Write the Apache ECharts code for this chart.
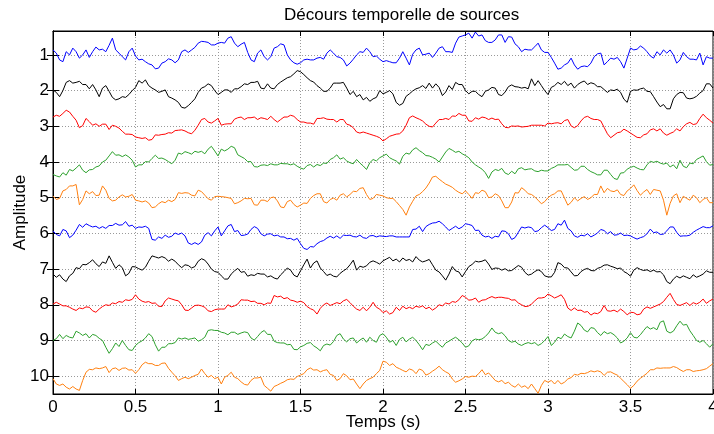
<!DOCTYPE html>
<html>
<head>
<meta charset="utf-8">
<script src="https://cdn.jsdelivr.net/npm/echarts@6/dist/echarts.min.js"></script>
<style>
  html, body { margin: 0; padding: 0; background: #fff; }
  #chart { width: 714px; height: 434px; }
</style>
</head>
<body>
<div id="chart"></div>
<script>
// Décours temporelle de sources : 10 traces empilées
const dt = 0.04; // pas des valeurs (s)
const xTicks = [0, 0.5, 1, 1.5, 2, 2.5, 3, 3.5, 4];
const yTicks = [1, 2, 3, 4, 5, 6, 7, 8, 9, 10];
const colors = ['#0000ff', '#000000', '#ff0000', '#2ca02c', '#ff7f0e',
                '#0000ff', '#000000', '#ff0000', '#2ca02c', '#ff7f0e'];

// écart de chaque source autour de sa ligne de base (vers le bas = positif)
// sN : valeurs à t = 0, 0.04, ... 4 ; mN : valeurs à t = 0.02, 0.06, ... 3.98
const s1 = [-0.14,0.14,-0.09,-0.19,0.09,-0.14,-0.09,-0.14,-0.09,-0.47,
  -0.05,0.14,-0.19,0.14,0.19,0.28,0.37,0.19,0.14,0.14,
  -0.14,-0.14,-0.33,-0.37,-0.28,-0.33,-0.33,-0.51,-0.23,
  -0.35,0.14,-0.05,0.05,0.05,-0.23,-0.28,0.14,0.26,0.14,
  0.14,0.09,0.12,-0.14,0.05,0.14,0.23,0,-0.07,-0.09,
  0.03,0.19,0.19,0.22,-0.09,0.28,-0.14,0,-0.05,-0.05,
  -0.23,-0.09,-0.33,-0.53,-0.61,
  -0.64,-0.56,-0.35,-0.42,-0.56,-0.51,-0.31,-0.09,-0.14,-0.23,
  -0.14,-0.07,0.23,0.37,0.23,0.28,0.33,0.33,0.05,-0.05,
  0.19,0.12,0.19,0.09,-0.14,-0.25,-0.09,0.09,0,-0.05,
  0,0.14,0.05,0.12,-0.05,0.05,0.09];
const m1 = [-0.05,0.19,0,-0.09,0,0.07,-0.22,-0.16,-0.27,-0.14,
  0.05,-0.09,0.03,0.12,0.25,0.39,0.23,0.11,0.22,-0.09,
  -0.07,-0.21,-0.38,-0.35,-0.28,-0.35,-0.47,-0.33,
  -0.30,-0.07,0.19,-0.14,0.14,-0.19,-0.31,0,0.22,0.22,
  0.12,0.14,0.07,-0.05,-0.05,0.07,0.31,0.12,-0.09,-0.19,
  0.05,0.12,0.16,0.22,0.09,0.09,-0.02,-0.19,-0.02,0.07,
  -0.19,-0.09,-0.07,-0.50,-0.56,
  -0.47,-0.53,-0.40,-0.35,-0.56,-0.35,-0.50,-0.23,-0.16,-0.14,
  -0.33,-0.07,0.07,0.40,0.28,0.09,0.40,0.31,0.23,-0.03,
  0.28,0.09,0.07,0.37,-0.19,-0.16,-0.19,0.03,-0.09,-0.14,
  -0.14,0.23,-0.07,0.12,0.14,0.28,0.09];
const s2 = [-0.02,0.17,-0.23,-0.21,-0.26,-0.17,-0.17,0.17,-0.14,0.19,
  0.23,0.19,0,-0.28,-0.30,-0.07,0.05,-0.02,0.21,0.33,
  0.49,0.33,0.05,-0.11,-0.14,0.11,-0.02,0.05,-0.05,
  -0.19,-0.23,-0.26,-0.05,-0.07,-0.17,-0.30,-0.39,-0.56,-0.45,
  -0.28,-0.14,0.02,-0.07,-0.21,-0.23,0.11,0.17,0.26,0.30,
  0.19,0.09,0,0.33,0.36,0.09,-0.05,-0.14,-0.21,-0.19,
  0.14,-0.14,-0.23,-0.17,0.09,
  0.02,0.17,-0.02,-0.07,0.14,-0.11,-0.11,-0.07,-0.05,-0.14,
  -0.14,0.11,-0.14,-0.17,-0.14,-0.07,-0.23,-0.17,-0.19,-0.11,
  0.05,0,0.05,0.33,-0.02,-0.05,0.02,0.17,0.45,0.51,
  0.23,0.05,0.21,0.21,0.07,-0.19,-0.07];
const m2 = [0.05,0,-0.28,-0.23,-0.17,-0.05,-0.02,-0.07,0.02,0.26,
  0.17,0.11,-0.09,-0.21,-0.14,-0.02,0.02,0.17,0.26,0.47,
  0.42,0.23,-0.07,-0.19,0,0.05,-0.02,-0.05,
  -0.11,-0.17,-0.23,-0.07,-0.19,-0.05,-0.24,-0.36,-0.47,-0.53,
  -0.36,-0.24,-0.07,0.02,-0.21,-0.21,-0.07,0.02,0.11,0.19,
  0.23,0,0.05,0.09,0.41,0.16,0.01,-0.08,-0.06,-0.07,
  -0.09,0.04,-0.03,-0.17,0,
  0.02,0.11,0.02,-0.09,0.11,0.04,-0.16,-0.10,-0.09,-0.33,
  -0.28,0,-0.09,-0.23,-0.26,-0.21,-0.17,-0.27,-0.22,-0.11,
  -0.03,-0.02,-0.04,0.24,0.02,-0.01,-0.07,0.03,0.32,0.39,
  0.51,0.11,0.06,0.23,0.16,0,-0.19];
const s3 = [-0.26,-0.28,-0.45,-0.28,0.04,-0.22,-0.03,0,-0.06,-0.03,
  0.05,0.22,0.23,0.32,0.32,0.37,0.25,0.22,0.19,0.11,
  0.13,0.21,-0.03,-0.22,-0.09,-0.22,-0.06,-0.07,-0.24,
  -0.19,-0.24,-0.19,-0.22,-0.28,-0.12,-0.26,-0.31,-0.19,-0.12,
  -0.09,-0.22,-0.24,-0.19,-0.12,-0.19,-0.03,0.16,0.16,0.22,
  0.28,0.41,0.28,0.22,0.13,-0.24,-0.24,-0.15,0,-0.09,
  -0.19,-0.19,-0.28,-0.31,-0.15,
  -0.24,-0.26,-0.19,-0.19,-0.07,0.04,0,0.02,0,-0.03,
  -0.03,-0.09,-0.09,-0.07,-0.19,0.04,-0.15,-0.28,-0.19,-0.15,
  0.21,0.25,0.16,0.13,0.25,0.32,0.21,0.07,0.07,0.25,
  0.16,0.13,-0.07,-0.05,-0.22,-0.24,-0.09];
const m3 = [-0.31,-0.36,-0.40,-0.17,-0.02,-0.13,-0.07,-0.06,0.09,0,
  0.14,0.22,0.30,0.34,0.39,0.24,0.23,0.18,0.12,0.10,
  0.18,0.11,-0.19,-0.12,-0.15,-0.03,-0.07,-0.20,
  -0.26,-0.24,-0.26,-0.24,-0.19,-0.19,-0.19,-0.26,-0.28,-0.12,
  -0.09,-0.06,-0.22,-0.20,-0.19,-0.19,-0.06,0.04,0.19,0.19,
  0.25,0.32,0.35,0.25,0.21,-0.03,-0.29,-0.20,-0.06,0.02,
  -0.19,-0.22,-0.29,-0.36,-0.31,
  -0.14,-0.20,-0.24,-0.23,-0.20,0.03,-0.01,-0.01,0.01,-0.03,
  -0.03,-0.01,-0.07,-0.10,-0.16,-0.01,-0.02,-0.25,-0.22,-0.19,
  0.03,0.32,0.18,0.08,0.19,0.31,0.24,0.10,0.13,0.19,
  0.20,0.07,0.01,-0.11,-0.07,-0.34,-0.17];
const s4 = [0.35,0.42,0.37,0.25,0.08,0.30,0.21,0.11,-0.05,-0.29,
  -0.20,-0.20,-0.05,0.08,-0.01,-0.10,-0.10,-0.07,0.05,-0.25,
  -0.29,-0.22,-0.27,-0.23,-0.44,-0.17,-0.31,-0.44,-0.20,
  -0.10,-0.01,0.14,0.08,0.05,0.08,0.05,0.08,0.12,0.20,
  0.07,0.07,0.03,-0.07,-0.20,-0.12,0.02,-0.07,0.11,0.02,
  -0.03,-0.17,-0.12,-0.03,-0.16,-0.22,-0.40,-0.26,-0.17,-0.08,
  -0.14,-0.38,-0.27,-0.23,-0.12,
  0.08,0.20,0.46,0.21,0.18,0.35,0.33,0.16,0.20,0.25,
  0.23,0.25,0.14,0.08,0.07,0.23,0.12,0.21,0.31,0.36,
  0.23,0.46,0.31,0.20,0.12,0.21,0.08,0.01,0.03,0.03,
  0.08,-0.05,0.16,0.05,-0.12,-0.01,0.07];
const m4 = [0.39,0.30,0.21,0.17,0.23,0.22,0.14,0,-0.17,-0.19,
  -0.15,-0.14,0.14,0.08,0,-0.19,-0.11,-0.01,-0.05,-0.22,
  -0.26,-0.30,-0.30,-0.36,-0.31,-0.36,-0.36,-0.40,
  -0.15,-0.01,0.13,0.09,0.10,0.08,0.04,0.05,0.05,0.17,
  0.10,0.14,0.10,0.04,-0.12,-0.08,-0.03,0.05,0.03,0.21,
  -0.07,-0.12,-0.22,-0.07,0.06,-0.25,-0.34,-0.32,-0.18,-0.13,
  0,-0.28,-0.33,-0.30,-0.18,
  0,0.14,0.30,0.28,0.24,0.31,0.26,0.19,0.22,0.19,
  0.27,0.25,0.18,0.08,0.08,0.15,0.22,0.12,0.27,0.36,
  0.23,0.35,0.49,0.30,0.15,0.17,0.22,-0.02,-0.02,0.06,
  0.14,0.19,0.12,0.03,-0.07,-0.17,0.09];
const s5 = [-0.05,0.02,-0.23,-0.33,0.20,-0.19,-0.17,-0.07,-0.21,0.09,
  -0.02,-0.02,-0.09,0.09,0.09,0.28,0.17,0.14,0.11,-0.14,
  -0.14,-0.07,-0.21,-0.07,0.07,-0.04,-0.02,0.02,0.14,
  0.02,0.02,0.21,0.07,0,0.09,0.28,0.07,0.26,0.15,
  0.02,-0.11,0.11,0.05,0.07,-0.11,-0.09,-0.17,-0.28,0.05,
  -0.09,-0.05,0.02,0.11,0.33,0.26,-0.05,-0.17,-0.41,-0.60,
  -0.45,-0.34,-0.21,-0.11,-0.09,
  -0.14,-0.21,0,-0.11,0.09,0.28,-0.14,-0.28,-0.11,-0.02,
  0.17,0,-0.11,-0.19,0.21,0,0.02,0.05,-0.09,-0.33,
  -0.26,-0.17,-0.09,-0.19,-0.36,-0.07,-0.23,-0.23,-0.19,0.49,
  -0.05,0.14,0.02,-0.07,0.14,0,0.14];
const m5 = [0.05,-0.19,-0.33,-0.37,0.05,-0.11,-0.06,-0.33,0.02,0.07,
  -0.08,-0.04,0.07,0.12,0.15,0.26,0.11,0.07,0.05,-0.12,
  -0.13,-0.05,-0.17,0.03,-0.03,-0.03,0,0.17,
  0.09,0.03,0.20,0.07,0.11,-0.02,0.26,0.11,0.19,0.21,
  0.16,-0.06,-0.11,0.15,0.01,-0.07,-0.02,-0.18,-0.26,-0.09,
  0.02,-0.07,0,0.02,0.22,0.49,0.10,-0.09,-0.27,-0.58,
  -0.52,-0.38,-0.29,-0.15,-0.19,
  0.02,-0.12,-0.17,-0.02,-0.06,0.28,0.12,-0.13,-0.21,-0.09,
  0.07,0.11,-0.07,-0.19,0.01,0.13,0.09,-0.03,0,-0.09,
  -0.14,-0.19,-0.22,-0.06,-0.26,-0.20,-0.16,-0.09,-0.21,0.07,
  0.16,-0.11,-0.04,0.07,0,0.05,0.14];
const s6 = [-0.07,0.07,-0.07,0.05,-0.25,-0.27,-0.18,-0.14,-0.14,-0.22,
  -0.23,-0.33,-0.23,-0.18,-0.20,0.17,0.10,0.05,0.08,0.03,
  0.07,0.31,0.31,0.05,0.07,-0.18,-0.07,-0.25,-0.08,
  0.05,-0.11,-0.14,0.07,0.01,0.05,0.10,0.14,0.14,0.42,
  0.37,0.29,0.20,0.08,0.07,0.05,0.05,0.10,0.12,0.07,
  0.10,0.08,0.07,0.10,0.10,0.10,-0.12,-0.05,-0.25,-0.30,
  -0.27,-0.08,-0.20,-0.18,-0.25,
  -0.08,0.05,0.08,0.08,-0.07,0.01,0.12,-0.18,-0.18,-0.05,
  -0.16,-0.16,-0.11,-0.23,-0.14,0.07,0.05,0.01,0.05,-0.11,
  0.01,0.05,-0.01,0.05,0.12,0.12,0.01,-0.02,0.03,-0.07,
  -0.18,0.08,0.07,-0.03,-0.14,-0.16,-0.21];
const m6 = [0.03,-0.11,0.12,-0.09,-0.17,-0.22,-0.20,-0.19,-0.22,-0.28,
  -0.24,-0.20,-0.14,-0.17,-0.14,0.19,0.14,0.11,-0.01,-0.01,
  0.27,0.26,0.24,-0.02,-0.07,0.07,-0.21,-0.05,
  0.06,0.02,-0.19,0.01,0.02,0.07,0.10,0.15,0.19,0.29,
  0.45,0.38,0.23,0.13,0.13,0.14,0.06,0.09,0.05,0.14,
  0.06,0.07,0.09,0.07,0.10,0.10,-0.11,-0.20,-0.19,-0.29,
  -0.34,-0.18,-0.14,-0.13,-0.27,
  -0.22,-0.09,0.10,0.14,0.10,-0.06,0.17,-0.03,-0.15,-0.16,
  -0.07,-0.23,-0.08,-0.27,-0.37,-0.07,0.11,0.07,0.10,-0.01,
  -0.08,-0.05,0.04,0.06,0.07,0.16,0.09,-0.12,-0.04,0.02,
  -0.18,-0.03,0.07,0.05,-0.09,-0.19,-0.16];
const s7 = [0.14,0.16,0.35,0.12,-0.01,-0.12,-0.26,-0.07,-0.16,-0.19,
  -0.12,0.19,-0.07,-0.01,-0.05,-0.37,-0.31,-0.31,-0.28,-0.12,
  -0.12,-0.03,-0.22,-0.25,0,0.09,0.28,0.14,-0.02,
  0.07,0.16,0.12,0.14,0.19,0.28,0.07,0.03,0.22,-0.12,
  -0.03,-0.23,0.07,0.14,0.22,0.05,-0.12,0.03,-0.05,-0.19,
  -0.19,-0.23,-0.33,-0.28,-0.31,-0.27,-0.35,-0.20,-0.27,0.03,
  0.19,0.14,0.05,0.22,-0.07,
  -0.22,-0.22,-0.14,-0.03,0.03,0.05,-0.03,-0.05,0.17,0.07,
  0.07,0.22,0.09,-0.14,-0.03,0.19,0.07,-0.02,0.05,-0.05,
  -0.12,-0.05,-0.03,0.12,0.03,0.01,0.02,0.03,0.07,0.35,
  0.28,0.25,0.23,0.16,0.19,0.05,0.09];
const m7 = [0.23,0.28,0.19,-0.04,-0.13,-0.18,-0.15,-0.20,-0.37,-0.02,
  -0.04,0.12,-0.06,0.03,-0.22,-0.34,-0.35,-0.22,-0.22,-0.04,
  -0.10,-0.07,-0.29,-0.14,0.07,0.19,0.28,0.05,
  0.09,0.20,0.18,0.14,0.22,0.25,0.16,-0.03,0.17,0.05,
  -0.28,-0.17,-0.03,0.18,0.20,0.12,-0.01,-0.25,-0.08,-0.09,
  -0.23,-0.14,-0.28,-0.23,-0.20,-0.24,-0.20,-0.25,-0.23,-0.12,
  0.08,0.31,-0.07,0.08,0.07,
  -0.13,-0.20,-0.26,0.01,-0.02,-0.01,0.04,-0.10,0.09,0.14,
  0.02,0.19,0.22,-0.18,-0.04,0.08,0.18,0.01,0.04,-0.02,
  -0.11,-0.08,-0.01,0.07,0.20,-0.04,0.04,0.07,0.08,0.16,
  0.41,0.20,0.19,0.27,0.23,0.14,0.09];
const s8 = [-0.02,-0.02,0.03,0.12,0.09,0.06,0.17,0.12,0,-0.05,
  -0.09,-0.14,-0.15,-0.16,-0.07,-0.04,0.04,-0.11,-0.16,-0.11,
  0.15,0.09,0.01,0.07,0.19,0.12,0.12,0.06,-0.02,
  -0.13,-0.09,-0.04,0,-0.04,-0.22,-0.17,-0.13,-0.07,-0.06,
  0.11,0.26,0,0.02,-0.06,-0.11,-0.06,0.12,0.07,0.07,
  0.07,0.22,0.26,0.07,0.04,0.07,0.04,0.03,0.07,0.09,
  0.03,-0.02,-0.07,-0.26,-0.13,
  -0.19,-0.13,-0.19,-0.19,-0.21,-0.18,-0.14,0,0.04,-0.11,
  -0.19,-0.30,-0.19,-0.28,0.09,0.09,0.15,0.19,0.23,0.19,
  0.17,0.15,0.12,0.28,0.22,0.26,0.06,0.06,-0.02,-0.21,
  -0.15,0.02,-0.06,-0.06,-0.07,-0.04,-0.16];
const m8 = [-0.07,0.03,0.07,0.16,0.11,0.07,0.21,0.05,0.02,-0.03,
  -0.07,-0.12,-0.28,-0.10,-0.09,-0.05,0.05,-0.19,-0.13,0,
  0.16,0.02,0.03,0.17,0.14,0.12,0,0.03,
  -0.14,-0.13,-0.10,-0.04,-0.05,-0.26,-0.24,-0.20,-0.11,-0.10,
  0.05,0.15,0.10,-0.05,-0.02,-0.03,-0.15,0.04,0.16,0.17,
  -0.07,0.12,0.17,0.22,0.16,0.11,0.11,0.07,0.11,0.15,
  0,-0.05,-0.09,-0.14,-0.21,
  -0.14,-0.07,-0.14,-0.23,-0.21,-0.19,-0.13,-0.05,0.05,-0.02,
  -0.19,-0.21,-0.25,-0.23,-0.15,0.16,0.16,0.21,0.29,0.25,
  0.02,0.18,0.20,0.19,0.21,0.28,0.12,0.10,0.02,-0.09,
  -0.32,-0.01,-0.02,0.02,-0.02,-0.16,-0.11];
const s9 = [0,-0.17,-0.14,-0.07,-0.21,-0.19,-0.17,-0.06,0.19,0.23,
  0.17,0.14,0.28,0.06,-0.07,-0.11,0.30,0.19,0.09,-0.07,
  -0.07,-0.05,0.02,-0.09,-0.30,-0.28,-0.21,-0.23,-0.17,
  -0.24,-0.07,-0.11,-0.28,-0.17,0.06,0.07,0.11,0.26,0.14,
  0.06,0.21,0.14,0.13,-0.14,-0.04,-0.05,0.07,-0.07,-0.09,
  0.05,-0.19,0.05,0.14,-0.09,-0.04,0,0.26,0.14,0.02,
  0.19,0.02,-0.09,0.07,0.15,
  -0.04,-0.04,-0.21,-0.23,-0.22,0,0.02,0.14,0.06,0.06,
  0.09,-0.11,0.05,-0.05,-0.11,-0.26,-0.42,-0.24,-0.34,-0.14,
  -0.19,-0.16,0.07,-0.07,-0.09,-0.16,-0.39,-0.36,-0.51,-0.26,
  -0.26,-0.54,-0.45,-0.14,0.05,0.09,0.09];
const m9 = [-0.05,-0.05,-0.09,-0.26,-0.14,-0.07,-0.14,0,0.36,0.07,
  0,0.26,0.14,0.01,-0.19,0.12,0.19,0.09,0.06,-0.04,
  -0.03,-0.07,-0.02,-0.28,-0.28,-0.23,-0.16,-0.23,
  -0.21,-0.22,-0.01,-0.22,-0.17,0.02,0.07,0.12,0.25,0.18,
  0.08,0.15,0.29,0.10,0.03,-0.19,0.04,-0.07,-0.01,0.05,
  0,-0.14,-0.09,0,-0.03,0.04,-0.09,0.12,0.11,0.07,
  0.11,0.07,-0.04,-0.02,0.19,
  0.01,-0.02,-0.11,-0.35,-0.19,-0.13,0.05,0.10,0.09,0.09,
  0.14,0,0.14,-0.09,-0.18,-0.07,-0.49,-0.29,-0.36,-0.22,
  -0.25,-0.22,-0.07,0.02,-0.22,-0.07,-0.28,-0.32,-0.30,-0.55,
  -0.21,-0.41,-0.43,-0.27,0,0,0.19];
const s10 = [0.07,0.26,0.31,0.29,0.40,-0.11,-0.18,-0.21,-0.27,-0.21,
  -0.16,-0.23,-0.18,-0.18,-0.39,-0.35,-0.30,-0.37,-0.11,0.12,
  0.03,0.03,-0.05,-0.07,-0.02,0.03,0.03,-0.11,0.07,
  0.23,0.12,0.05,0.26,0.42,0.25,0.16,0.08,0.01,-0.07,
  -0.23,-0.18,-0.16,-0.05,0.12,-0.07,0.10,0.22,0.22,0.07,
  -0.07,-0.42,-0.30,-0.25,-0.16,-0.20,-0.07,-0.16,-0.07,-0.20,
  -0.18,-0.07,0.17,0.08,0.03,
  0.01,-0.18,-0.09,0.12,0.12,0.17,0.31,0.31,0.35,0.35,
  0.26,0.17,0.22,0.22,0.08,-0.05,-0.08,-0.10,-0.12,-0.12,
  -0.11,-0.07,0.06,0.24,0.26,0.06,-0.08,-0.18,-0.22,-0.23,
  -0.27,-0.18,-0.18,-0.13,-0.16,-0.21,-0.35];
const m10 = [0.22,0.22,0.36,0.36,0.12,-0.19,-0.23,-0.23,-0.10,-0.23,
  -0.22,-0.17,-0.08,-0.32,-0.35,-0.30,-0.36,-0.22,-0.01,0.07,
  0.07,-0.02,-0.20,0.03,0.07,0.22,-0.02,0.03,
  0.16,0.25,0.05,0.03,0.34,0.29,0.20,0.10,0.09,-0.03,
  -0.18,-0.17,-0.12,-0.18,-0.02,0.07,-0.01,0.08,0.35,0.12,
  0.03,-0.16,-0.39,-0.35,-0.21,-0.12,-0.17,-0.20,-0.03,-0.14,
  -0.28,-0.12,0.08,0.13,0.01,
  0,-0.07,-0.04,0.01,0.16,0.21,0.26,0.22,0.27,0.22,
  0.48,0.12,0.12,0.12,0.17,0.04,-0.03,-0.07,-0.15,-0.15,
  -0.02,-0.12,-0.03,0.15,0.34,0.14,-0.01,-0.18,-0.23,-0.23,
  -0.23,-0.24,-0.13,-0.18,-0.15,-0.18,-0.28];

const sources = [s1, s2, s3, s4, s5, s6, s7, s8, s9, s10];
const midpoints = [m1, m2, m3, m4, m5, m6, m7, m8, m9, m10];

// assemble une trace : valeurs aux pas entiers puis aux demi-pas
function buildTrace(s, m, base) {
    var pts = [];
    for (var i = 0; i < s.length; i++) {
        pts.push([i * dt, base + s[i]]);
        if (i < m.length) {
            pts.push([(i + 0.5) * dt, base + m[i]]);
        }
    }
    return pts;
}

function drawSources() {
    var dom = document.getElementById('chart');
    var myChart = echarts.init(dom, null, { renderer: 'canvas' });
    var font = "'Liberation Sans', Arial, sans-serif";
    var grid = {
        type: [1, 2],
        color: '#999999',
        width: 1
    };

    var series = sources.map(function (s, k) {
        return {
            type: 'line',
            name: String(yTicks[k]),
            data: buildTrace(s, midpoints[k], yTicks[k]),
            showSymbol: false,
            lineStyle: { color: colors[k], width: 1 },
            itemStyle: { color: colors[k] },
            silent: true
        };
    });

    var option = {
        animation: false,
        textStyle: { fontFamily: font },
        title: {
            text: 'Décours temporelle de sources',
            left: 279,
            top: 2,
            textStyle: { fontFamily: font, fontSize: 17, fontWeight: 'normal', color: '#000' }
        },
        grid: {
            left: 53, right: 1, top: 31, bottom: 40,
            containLabel: false,
            outerBoundsMode: 'none',
            show: true, borderColor: '#000', borderWidth: 1
        },
        xAxis: [
            {
                type: 'value', min: 0, max: 4, interval: 0.5,
                name: 'Temps (s)', nameLocation: 'middle', nameGap: 20,
                nameMoveOverlap: false,
                nameTextStyle: { fontFamily: font, fontSize: 17, color: '#000' },
                axisLine: { lineStyle: { color: '#000' } },
                axisTick: { inside: true, length: 5, lineStyle: { color: '#000' } },
                axisLabel: {
                    fontFamily: font, fontSize: 17, color: '#000', margin: 5,
                    hideOverlap: false, showMinLabel: true, showMaxLabel: true
                },
                splitLine: { show: true, lineStyle: grid }
            },
            {
                type: 'value', min: 0, max: 4, interval: 0.5, position: 'top',
                axisLine: { lineStyle: { color: '#000' } },
                axisTick: { inside: true, length: 5, lineStyle: { color: '#000' } },
                axisLabel: { show: false },
                splitLine: { show: false }
            }
        ],
        yAxis: [
            {
                type: 'value', inverse: true, min: 0.33, max: 10.5,
                name: 'Amplitude', nameLocation: 'middle', nameRotate: 90, nameGap: 24,
                nameMoveOverlap: false,
                nameTextStyle: { fontFamily: font, fontSize: 17, color: '#000' },
                axisLine: { lineStyle: { color: '#000' } },
                axisTick: { inside: true, length: 6, customValues: yTicks, lineStyle: { color: '#000' } },
                axisLabel: { fontFamily: font, fontSize: 17, color: '#000', margin: 4, customValues: yTicks },
                splitLine: { show: true, lineStyle: grid }
            },
            {
                type: 'value', inverse: true, min: 0.33, max: 10.5, position: 'right',
                axisLine: { lineStyle: { color: '#000' } },
                axisTick: { inside: true, length: 6, customValues: yTicks, lineStyle: { color: '#000' } },
                axisLabel: { show: false },
                splitLine: { show: false }
            }
        ],
        series: series
    };

    if (option && typeof option === 'object') {
        myChart.setOption(option);
    }

    window.addEventListener('resize', myChart.resize);
}

drawSources();
</script>
</body>
</html>
